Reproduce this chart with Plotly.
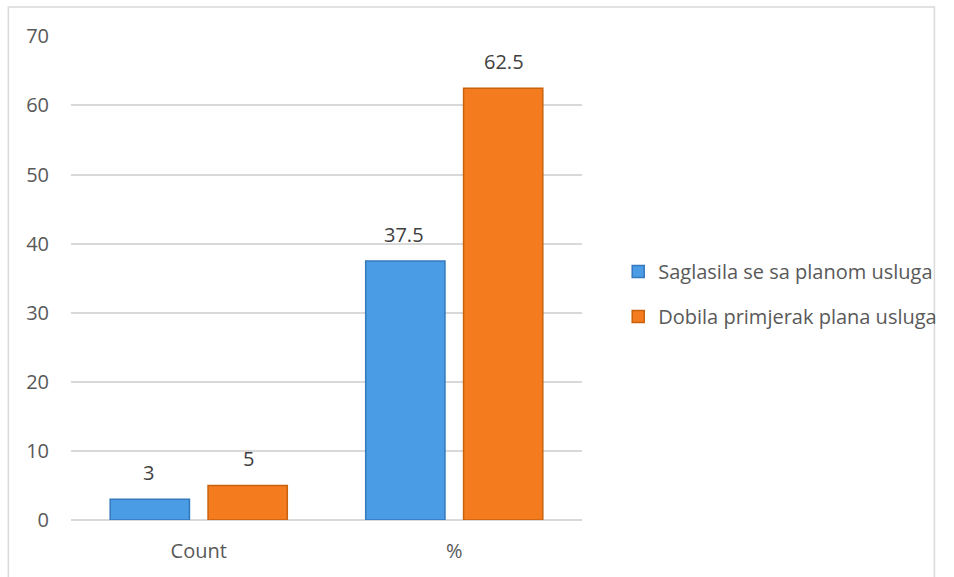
import plotly.graph_objects as go

categories = ["Count", "%"]
series_names = ["Saglasila se sa planom usluga", "Dobila primjerak plana usluga"]
blue_values = [3, 37.5]
orange_values = [5, 62.5]
y_ticks = [0, 10, 20, 30, 40, 50, 60, 70]

W, H = 954, 577
L, R, T, B = 71, 361, 36, 57
FONT = "Open Sans"
TXT = "#595959"
BARGAP = 0.234

fig = go.Figure()
fill_colors = ["#4A9DE4", "#F47B1E"]
line_colors = ["#3478BE", "#C8620F"]
all_values = [blue_values, orange_values]
for i, (name, vals) in enumerate(zip(series_names, all_values)):
    fig.add_trace(go.Bar(
        x=categories, y=vals, name=name,
        marker=dict(color=fill_colors[i], line=dict(color=line_colors[i], width=1.5)),
        legendgroup=f"g{i}",
    ))

# data labels via annotations above each bar
slot = (W - L - R) / len(categories) * (1 - BARGAP) / 2
for i, vals in enumerate(all_values):
    shift = (-0.5 + i) * slot
    for c, v in zip(categories, vals):
        fig.add_annotation(x=c, y=v, xref="x", yref="y", text=f"{v:g}",
                           showarrow=False, yanchor="bottom", xshift=shift, yshift=11,
                           font=dict(family=FONT, size=20, color="#404040"))

pw, ph = W - L - R, H - T - B
fig.add_shape(type="rect", xref="paper", yref="paper",
              x0=(7 - L) / pw, x1=(953 - L) / pw,
              y0=(H - B - 600) / ph, y1=(H - B - 7) / ph,
              line=dict(color="#D9D9D9", width=1.5), fillcolor="rgba(0,0,0,0)", layer="below")

fig.update_layout(
    width=W, height=H,
    margin=dict(l=L, r=R, t=T, b=B, pad=0),
    paper_bgcolor="white", plot_bgcolor="white",
    barmode="group", bargap=BARGAP, bargroupgap=0.19,
    font=dict(family=FONT, size=20, color=TXT),
    showlegend=True,
    legend=dict(x=(630 - L) / pw, y=(H - B - 252) / ph,
                xanchor="left", yanchor="top", traceorder="grouped", tracegroupgap=16,
                font=dict(family=FONT, size=20, color=TXT), itemwidth=30,
                bgcolor="rgba(0,0,0,0)"),
    xaxis=dict(showgrid=False, showline=False, zeroline=False, ticks="",
               tickfont=dict(family=FONT, size=20, color=TXT), ticklabelstandoff=17),
    yaxis=dict(range=[0, 70.05], tickvals=y_ticks, showgrid=True, gridcolor="#D9D9D9", gridwidth=1.5,
               zeroline=True, zerolinecolor="#D9D9D9", zerolinewidth=1.5, showline=False, ticks="",
               tickfont=dict(family=FONT, size=20, color=TXT), ticklabelstandoff=21),
)

fig.write_html("out.html")
